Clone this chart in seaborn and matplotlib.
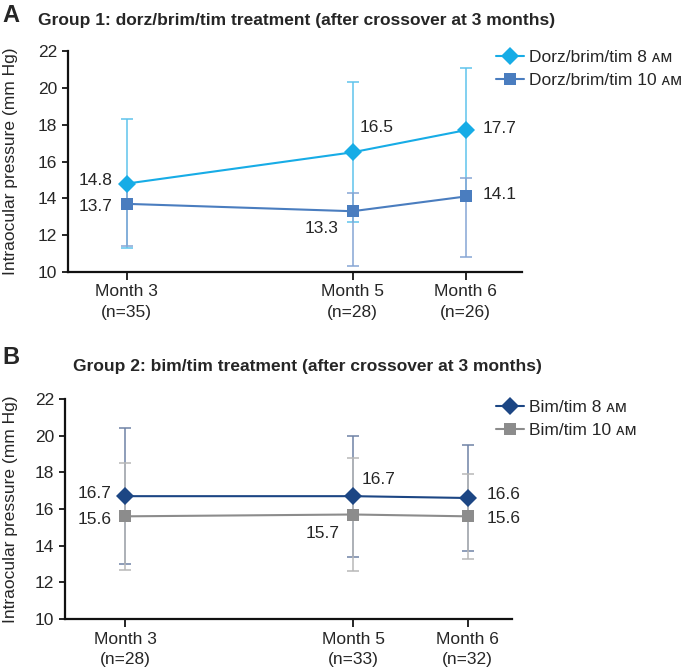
import matplotlib
matplotlib.use("Agg")
import matplotlib.pyplot as plt
import pandas as pd
import seaborn as sns
from matplotlib.lines import Line2D

months = [3, 5, 6]
ticks_a = ["Month 3\n(n=35)", "Month 5\n(n=28)", "Month 6\n(n=26)"]
ticks_b = ["Month 3\n(n=28)", "Month 5\n(n=33)", "Month 6\n(n=32)"]

# group 1 - dorz/brim/tim
a_8am = [14.8, 16.5, 17.7]
a_8am_low = [11.3, 12.7, 14.3]
a_8am_high = [18.3, 20.3, 21.1]
a_10am = [13.7, 13.3, 14.1]
a_10am_low = [11.4, 10.3, 10.8]
a_10am_high = [14.7, 14.3, 15.1]

# group 2 - bim/tim
b_8am = [16.7, 16.7, 16.6]
b_8am_low = [13.0, 13.4, 13.7]
b_8am_high = [20.4, 20.0, 19.5]
b_10am = [15.6, 15.7, 15.6]
b_10am_low = [12.7, 12.6, 13.3]
b_10am_high = [18.5, 18.8, 17.9]

sns.set_style("ticks")
plt.rcParams["font.family"] = ["Liberation Sans", "DejaVu Sans"]
FS = 12.5

W, H = 685, 671
fig = plt.figure(figsize=(W / 100, H / 100), dpi=100)


def px_axes(left, top, right, bottom):
    return fig.add_axes([left / W, 1 - bottom / H, (right - left) / W, (bottom - top) / H])


def panel(ax, series, ticklabels, xlim, offsets, legend_top, ylabel_y):
    rows = []
    for name, vals, low, high, col, ecol, mk in series:
        for m, v in zip(months, vals):
            rows.append({"month": m, "iop": v, "series": name})
        yerr = [[v - lo for v, lo in zip(vals, low)], [hi - v for v, hi in zip(vals, high)]]
        ax.errorbar(months, vals, yerr=yerr, fmt="none", ecolor=ecol, elinewidth=1.1,
                    capsize=4, capthick=1.1, zorder=1)
    df = pd.DataFrame(rows)
    palette = {s[0]: s[4] for s in series}
    markers = {s[0]: s[6] for s in series}
    sns.lineplot(data=df, x="month", y="iop", hue="series", style="series",
                 palette=palette, markers=markers, dashes=False, markersize=9,
                 markeredgewidth=0, linewidth=1.5, legend=False, ax=ax, zorder=3)

    for (name, vals, *_), offs in zip(series, offsets):
        for m, v, (dx, dy, ha) in zip(months, vals, offs):
            ax.annotate(f"{v:.1f}", (m, v), xytext=(dx, dy), textcoords="offset pixels",
                        ha=ha, va="center", fontsize=FS)

    ax.set_xlim(*xlim)
    ax.set_ylim(10, 22)
    ax.set_yticks(range(10, 23, 2))
    ax.set_xticks(months)
    ax.set_xticklabels(ticklabels, fontsize=FS, linespacing=1.42)
    ax.tick_params(axis="y", labelsize=FS, length=4, width=1.4, pad=4)
    ax.tick_params(axis="x", length=6, width=1.4, pad=3)
    ax.set_xlabel("")
    ax.set_ylabel("")
    for side in ["top", "right"]:
        ax.spines[side].set_visible(False)
    for side in ["left", "bottom"]:
        ax.spines[side].set_linewidth(1.6)
        ax.spines[side].set_color("#111111")
    fig.text(11 / W, 1 - ylabel_y / H, "Intraocular pressure (mm Hg)", rotation=90,
             ha="center", va="center", fontsize=FS)

    handles = [Line2D([], [], color=s[4], marker=s[6], markersize=9, markeredgewidth=0,
                      linewidth=1.5) for s in series]
    fig.legend(handles, [s[0] for s in series], loc="upper left",
               bbox_to_anchor=(496 / W, 1 - legend_top / H), frameon=False, fontsize=FS,
               handlelength=1.6, handletextpad=0.3, labelspacing=0.45, borderpad=0,
               borderaxespad=0)


ax_a = px_axes(68, 51, 522, 272)
panel(ax_a,
      [("Dorz/brim/tim 8 ᴀᴍ", a_8am, a_8am_low, a_8am_high, "#17ace6", "#5fc3ec", "D"),
       ("Dorz/brim/tim 10 ᴀᴍ", a_10am, a_10am_low, a_10am_high, "#4a7dbf", "#86a6d4", "s")],
      ticks_a, (2.48, 6.5),
      [[(-14, 3, "right"), (7, 25, "left"), (17, 2, "left")],
       [(-14, -3, "right"), (-14, -17, "right"), (17, 2, "left")]],
      50, 161)

ax_b = px_axes(65, 399, 512, 619)
panel(ax_b,
      [("Bim/tim 8 ᴀᴍ", b_8am, b_8am_low, b_8am_high, "#1c4684", "#6f82a6", "D"),
       ("Bim/tim 10 ᴀᴍ", b_10am, b_10am_low, b_10am_high, "#8c8c8c", "#b8b8b8", "s")],
      ticks_b, (2.47, 6.39),
      [[(-14, 3, "right"), (8, 17, "left"), (19, 4, "left")],
       [(-14, -3, "right"), (-14, -19, "right"), (19, -2, "left")]],
      400, 509)

fig.text(2 / W, 1 - 15 / H, "A", fontsize=17, fontweight="bold", va="center")
fig.text(38 / W, 1 - 20 / H, "Group 1: dorz/brim/tim treatment (after crossover at 3 months)",
         fontsize=FS, fontweight="bold", va="center")
fig.text(2 / W, 1 - 357 / H, "B", fontsize=17, fontweight="bold", va="center")
fig.text(73 / W, 1 - 367 / H, "Group 2: bim/tim treatment (after crossover at 3 months)",
         fontsize=FS, fontweight="bold", va="center")

fig.savefig("out.png", dpi=100)
